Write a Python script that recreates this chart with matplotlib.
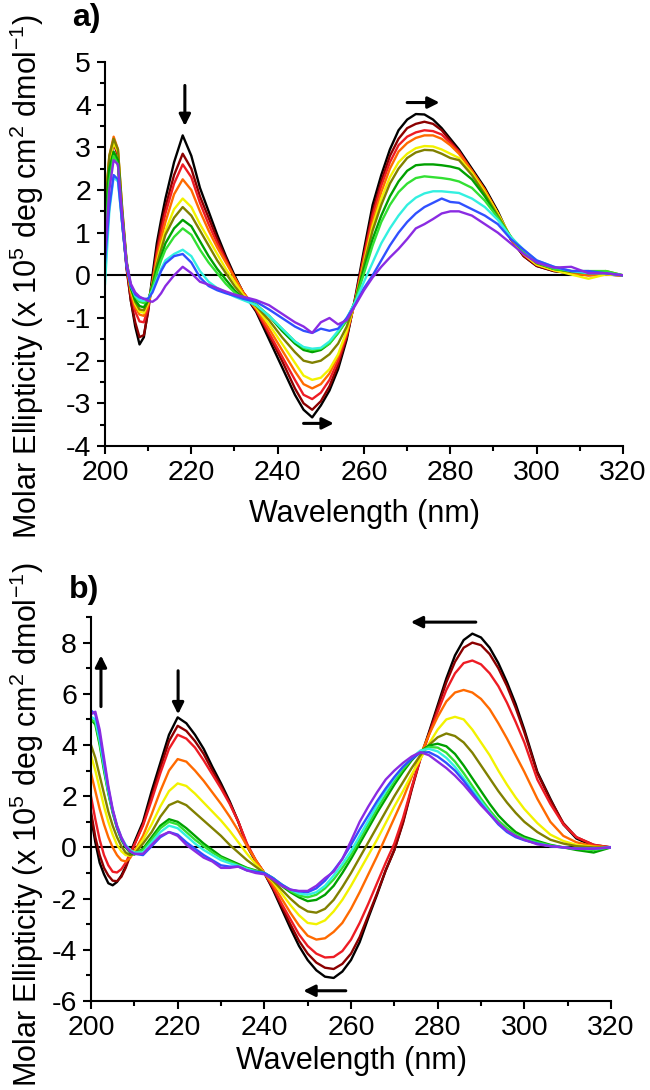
import matplotlib
matplotlib.use('Agg')
import matplotlib.pyplot as plt
from matplotlib.ticker import MultipleLocator

plt.rcParams['font.family'] = ['Liberation Sans', 'DejaVu Sans']
plt.rcParams['mathtext.fontset'] = 'custom'
plt.rcParams['mathtext.rm'] = 'Liberation Sans'
plt.rcParams['mathtext.it'] = 'Liberation Sans'
plt.rcParams['axes.unicode_minus'] = False

# titration colours, first spectrum (black) to last (violet)
COLORS = ['#000000', '#8b0000', '#ee1c24', '#ff6a00', '#f2f200', '#808000',
          '#00a000', '#33e033', '#33f0e0', '#3050ff', '#8a2be2']

YLABEL = r'Molar Ellipticity (x 10$^5$ deg cm$^2$ dmol$^{-1}$)'
XLABEL = 'Wavelength (nm)'

# ---------------- panel a ----------------
WL_A = [200, 201, 202, 203, 204, 205, 206, 207, 208, 209, 210, 211, 212, 213, 214,
        216, 218, 220, 222, 224, 226, 228, 230, 232,
        235, 238, 241, 244,
        246, 248, 250, 252, 254, 256, 258, 260, 262, 264, 266, 268, 270, 272, 274, 276, 278, 280, 282,
        285, 288, 291, 294, 297, 300,
        304, 308, 312, 316, 320]

A_BLACK = [0.8, 2.2, 2.85, 2.6, 1.2, 0.2, -0.6, -1.2, -1.62, -1.45, -0.8, 0.0, 0.75, 1.3, 1.8,
           2.65, 3.28, 2.8, 2.05, 1.5, 0.95, 0.45, 0.0, -0.4,
           -0.85, -1.5, -2.15, -2.8,
           -3.15, -3.33, -3.05, -2.7, -2.2, -1.5, -0.5, 0.6, 1.65, 2.35, 2.95, 3.4, 3.65, 3.78, 3.77, 3.65, 3.45, 3.2, 2.95,
           2.5, 2.05, 1.5, 0.85, 0.45, 0.22,
           0.1, 0.05, 0.03, 0.02, 0.0]
A_DARKRED = [1.2, 2.6, 3.1, 2.8, 1.3, 0.15, -0.6, -1.1, -1.45, -1.4, -0.85, -0.1, 0.6, 1.15, 1.6,
             2.35, 2.85, 2.5, 1.85, 1.35, 0.85, 0.4, -0.05, -0.4,
             -0.82, -1.4, -2.0, -2.65,
             -3.0, -3.15, -2.95, -2.6, -2.1, -1.45, -0.55, 0.5, 1.5, 2.2, 2.8, 3.2, 3.45, 3.55, 3.6, 3.55, 3.4, 3.15, 2.9,
             2.45, 2.0, 1.45, 0.85, 0.45, 0.22,
             0.1, 0.05, 0.02, 0.02, 0.0]
A_RED = [1.4, 2.7, 3.15, 2.85, 1.4, 0.2, -0.45, -0.85, -1.08, -1.1, -0.75, -0.15, 0.5, 1.0, 1.45,
         2.15, 2.6, 2.3, 1.7, 1.2, 0.75, 0.35, -0.05, -0.4,
         -0.8, -1.35, -1.9, -2.45,
         -2.8, -2.9, -2.75, -2.45, -2.0, -1.4, -0.55, 0.45, 1.4, 2.1, 2.65, 3.05, 3.25, 3.35, 3.4, 3.38, 3.3, 3.1, 2.9,
         2.45, 2.0, 1.45, 0.85, 0.48, 0.25,
         0.12, 0.05, 0.0, 0.02, 0.0]
A_ORANGE = [1.5, 2.8, 3.25, 2.95, 1.5, 0.3, -0.4, -0.75, -0.92, -0.95, -0.7, -0.2, 0.4, 0.85, 1.25,
            1.9, 2.25, 2.0, 1.5, 1.05, 0.65, 0.3, -0.05, -0.4,
            -0.78, -1.25, -1.75, -2.25,
            -2.55, -2.65, -2.55, -2.3, -1.9, -1.35, -0.6, 0.35, 1.25, 1.95, 2.5, 2.9, 3.1, 3.22, 3.28, 3.28, 3.2, 3.05, 2.85,
            2.45, 2.0, 1.45, 0.85, 0.5, 0.25,
            0.12, 0.05, 0.0, 0.03, 0.0]
A_YELLOW = [1.6, 2.7, 3.1, 2.9, 1.5, 0.3, -0.35, -0.68, -0.85, -0.88, -0.65, -0.2, 0.3, 0.7, 1.05,
            1.55, 1.8, 1.6, 1.2, 0.85, 0.5, 0.15, -0.15, -0.45,
            -0.75, -1.15, -1.6, -2.05,
            -2.35, -2.45, -2.4, -2.2, -1.85, -1.3, -0.6, 0.3, 1.15, 1.8, 2.3, 2.65, 2.85, 2.98, 3.03, 3.02, 2.95, 2.85, 2.75,
            2.4, 1.95, 1.45, 0.9, 0.5, 0.25,
            0.12, 0.02, -0.08, 0.02, 0.0]
A_OLIVE = [1.5, 2.8, 3.2, 2.95, 1.55, 0.35, -0.3, -0.62, -0.8, -0.82, -0.6, -0.2, 0.25, 0.6, 0.95,
           1.35, 1.6, 1.4, 1.05, 0.7, 0.35, 0.05, -0.25, -0.5,
           -0.72, -1.05, -1.45, -1.8,
           -2.0, -2.05, -2.0, -1.85, -1.6, -1.2, -0.6, 0.25, 1.05, 1.65, 2.15, 2.5, 2.75, 2.88, 2.94, 2.93, 2.85, 2.75, 2.7,
           2.35, 1.9, 1.4, 0.9, 0.55, 0.28,
           0.15, 0.08, 0.05, 0.1, 0.0]
A_GREEN = [1.2, 2.5, 2.9, 2.7, 1.4, 0.3, -0.3, -0.58, -0.72, -0.75, -0.58, -0.25, 0.15, 0.45, 0.75,
           1.1, 1.3, 1.15, 0.8, 0.45, 0.15, -0.1, -0.35, -0.55,
           -0.7, -0.95, -1.3, -1.6,
           -1.75, -1.8, -1.75, -1.6, -1.35, -1.05, -0.6, 0.15, 0.85, 1.4, 1.85, 2.2, 2.45, 2.58, 2.6, 2.6, 2.58, 2.55, 2.5,
           2.25, 1.85, 1.35, 0.9, 0.55, 0.3,
           0.15, 0.1, 0.05, 0.05, 0.0]
A_LIME = [0.8, 2.2, 2.8, 2.6, 1.35, 0.3, -0.25, -0.5, -0.62, -0.65, -0.58, -0.3, 0.05, 0.35, 0.6,
          0.9, 1.1, 0.95, 0.6, 0.3, 0.05, -0.2, -0.4, -0.55,
          -0.68, -0.95, -1.25, -1.55,
          -1.7, -1.75, -1.72, -1.6, -1.35, -1.05, -0.6, 0.05, 0.7, 1.25, 1.65, 1.95, 2.15, 2.28, 2.32, 2.3, 2.28, 2.25, 2.2,
          2.05, 1.75, 1.35, 0.9, 0.55, 0.3,
          0.15, 0.1, 0.1, 0.1, 0.0]
A_CYAN = [-0.2, 1.5, 2.3, 2.2, 1.2, 0.25, -0.25, -0.48, -0.58, -0.6, -0.55, -0.35, -0.1, 0.15, 0.35,
          0.5, 0.6, 0.45, 0.1, -0.15, -0.3, -0.4, -0.5, -0.58,
          -0.7, -0.95, -1.25, -1.55,
          -1.68, -1.72, -1.7, -1.55, -1.3, -1.0, -0.62, -0.15, 0.3, 0.75, 1.1, 1.4, 1.65, 1.82, 1.92, 1.97, 1.97, 1.95, 1.93,
          1.8, 1.6, 1.3, 0.9, 0.6, 0.35,
          0.2, 0.1, 0.05, 0.05, 0.0]
A_BLUE = [0.3, 1.6, 2.35, 2.25, 1.2, 0.2, -0.25, -0.45, -0.52, -0.55, -0.55, -0.4, -0.15, 0.1, 0.28,
          0.45, 0.5, 0.3, -0.05, -0.25, -0.35, -0.42, -0.48, -0.55,
          -0.62, -0.8, -1.0, -1.2,
          -1.3, -1.35, -1.25, -1.3, -1.25, -1.0, -0.68, -0.3, 0.0, 0.35, 0.7, 1.0, 1.25, 1.45, 1.6, 1.7, 1.8, 1.72, 1.7,
          1.55, 1.4, 1.2, 0.85, 0.6, 0.35,
          0.2, 0.1, 0.1, 0.05, 0.0]
A_PURPLE = [0.5, 2.0, 2.7, 2.6, 1.4, 0.3, -0.2, -0.4, -0.5, -0.55, -0.6, -0.62, -0.55, -0.42, -0.25,
            0.0, 0.2, 0.05, -0.15, -0.22, -0.3, -0.38, -0.45, -0.5,
            -0.58, -0.7, -0.9, -1.1,
            -1.2, -1.35, -1.1, -1.0, -1.15, -1.05, -0.7, -0.35, -0.05, 0.2, 0.42, 0.62, 0.85, 1.1, 1.2, 1.32, 1.45, 1.5, 1.5,
            1.4, 1.2, 1.0, 0.75, 0.5, 0.3,
            0.18, 0.2, 0.05, 0.05, 0.0]

# arrows: (x tail, y tail, x head, y head)
ARROWS_A = [(218.5, 4.45, 218.5, 3.5), (270.0, 4.05, 277.5, 4.05), (246.0, -3.47, 253.0, -3.47)]

# ---------------- panel b ----------------
WL_B = [200, 201, 202, 203, 204, 205, 206, 207, 208, 209, 210,
        212, 214, 216, 218, 220, 222, 224, 226, 228, 230, 232, 234, 236, 238, 240,
        242, 244, 246, 248, 250, 252, 254, 256, 258, 260, 262, 264, 266, 268, 270,
        272, 274, 276, 278, 280, 282, 284, 286, 288, 290, 292, 294, 296, 298, 300,
        303, 306, 309, 312, 316, 320]

B_BLACK = [1.2, 0.2, -0.6, -1.05, -1.4, -1.48, -1.35, -1.1, -0.75, -0.25, 0.2,
           1.0, 2.2, 3.3, 4.4, 5.08, 4.85, 4.4, 3.85, 3.15, 2.5, 1.8, 1.0, 0.05, -0.55, -1.0,
           -1.65, -2.4, -3.15, -3.85, -4.4, -4.8, -5.05, -5.1, -4.85, -4.4, -3.7, -2.75, -1.85, -0.9, -0.1,
           1.0, 2.3, 3.5, 4.5, 5.55, 6.6, 7.5, 8.1, 8.35, 8.2, 7.8, 7.2, 6.45, 5.6, 4.6,
           2.95, 1.9, 0.9, 0.35, 0.05, 0.0]
B_DARKRED = [1.4, 0.4, -0.3, -0.8, -1.1, -1.3, -1.32, -1.15, -0.8, -0.35, 0.1,
             0.9, 2.0, 3.1, 4.15, 4.75, 4.55, 4.15, 3.65, 3.0, 2.4, 1.75, 1.0, 0.1, -0.5, -1.0,
             -1.6, -2.3, -3.0, -3.65, -4.15, -4.5, -4.7, -4.75, -4.55, -4.15, -3.5, -2.65, -1.8, -0.9, -0.1,
             0.95, 2.25, 3.45, 4.45, 5.45, 6.45, 7.25, 7.8, 8.0, 7.9, 7.55, 7.0, 6.3, 5.45, 4.5,
             2.9, 1.85, 0.95, 0.4, 0.1, 0.0]
B_RED = [2.0, 1.1, 0.3, -0.3, -0.7, -0.95, -0.98, -0.85, -0.6, -0.25, 0.1,
         0.85, 1.85, 2.9, 3.85, 4.4, 4.25, 3.9, 3.4, 2.85, 2.3, 1.7, 1.0, 0.15, -0.5, -1.0,
         -1.55, -2.2, -2.8, -3.4, -3.85, -4.15, -4.3, -4.28, -4.05, -3.6, -2.95, -2.2, -1.4, -0.6, 0.15,
         1.15, 2.35, 3.45, 4.4, 5.3, 6.15, 6.8, 7.2, 7.3, 7.15, 6.8, 6.3, 5.65, 4.9, 4.1,
         2.65, 1.7, 0.9, 0.4, 0.1, 0.0]
B_ORANGE = [2.9, 2.2, 1.5, 0.9, 0.4, 0.0, -0.3, -0.5, -0.55, -0.42, -0.15,
            0.45, 1.3, 2.2, 3.0, 3.45, 3.35, 3.0, 2.6, 2.15, 1.7, 1.2, 0.65, 0.05, -0.5, -1.0,
            -1.45, -2.0, -2.55, -3.05, -3.45, -3.6, -3.55, -3.3, -2.95, -2.4, -1.75, -1.05, -0.35, 0.4, 1.15,
            1.9, 2.75, 3.6, 4.4, 5.1, 5.7, 6.05, 6.15, 6.05, 5.8, 5.4, 4.85, 4.25, 3.6, 2.95,
            1.9, 1.0, 0.45, 0.2, 0.05, 0.0]
B_YELLOW = [3.6, 3.0, 2.3, 1.6, 1.0, 0.5, 0.1, -0.15, -0.3, -0.33, -0.2,
            0.3, 0.9, 1.6, 2.2, 2.5, 2.4, 2.1, 1.75, 1.4, 1.05, 0.65, 0.2, -0.25, -0.65, -1.0,
            -1.35, -1.8, -2.25, -2.65, -2.95, -3.0, -2.85, -2.5, -2.05, -1.5, -0.9, -0.3, 0.3, 0.95, 1.6,
            2.2, 2.85, 3.45, 4.05, 4.6, 5.0, 5.1, 5.0, 4.6, 4.1, 3.6, 3.0, 2.45, 1.95, 1.5,
            0.95, 0.5, 0.25, 0.1, 0.02, 0.0]
B_OLIVE = [4.0, 3.5, 2.8, 2.1, 1.4, 0.85, 0.4, 0.05, -0.2, -0.3, -0.25,
           0.15, 0.6, 1.2, 1.65, 1.8, 1.65, 1.35, 1.05, 0.75, 0.45, 0.1, -0.2, -0.5, -0.75, -1.0,
           -1.3, -1.65, -2.0, -2.3, -2.5, -2.55, -2.4, -2.05, -1.55, -1.0, -0.4, 0.2, 0.8, 1.4, 2.0,
           2.55, 3.1, 3.6, 4.0, 4.3, 4.45, 4.35, 4.1, 3.7, 3.2, 2.7, 2.2, 1.75, 1.35, 1.0,
           0.6, 0.3, 0.15, 0.05, 0.0, 0.0]
B_GREEN = [5.0, 4.8, 4.0, 3.0, 2.1, 1.35, 0.75, 0.3, 0.0, -0.2, -0.28,
           -0.05, 0.4, 0.85, 1.1, 1.0, 0.75, 0.45, 0.15, -0.1, -0.35, -0.5, -0.65, -0.8, -0.9, -1.0,
           -1.2, -1.5, -1.75, -1.95, -2.1, -2.05, -1.85, -1.5, -1.0, -0.45, 0.15, 0.75, 1.35, 1.9, 2.45,
           2.95, 3.4, 3.75, 3.98, 4.05, 3.95, 3.65, 3.2, 2.7, 2.2, 1.7, 1.25, 0.9, 0.6, 0.42,
           0.25, 0.1, 0.0, -0.1, -0.2, 0.0]
B_LIME = [5.0, 4.9, 4.1, 3.1, 2.15, 1.4, 0.8, 0.35, 0.05, -0.15, -0.25,
          -0.1, 0.3, 0.75, 1.0, 0.9, 0.6, 0.3, 0.05, -0.2, -0.4, -0.55, -0.7, -0.82, -0.92, -1.0,
          -1.2, -1.45, -1.7, -1.88, -1.95, -1.85, -1.6, -1.25, -0.8, -0.3, 0.3, 0.9, 1.5, 2.05, 2.6,
          3.05, 3.45, 3.75, 3.92, 3.9, 3.7, 3.35, 2.9, 2.4, 1.9, 1.45, 1.05, 0.75, 0.5, 0.35,
          0.2, 0.08, 0.0, -0.05, -0.1, 0.0]
B_CYAN = [5.1, 5.0, 4.2, 3.2, 2.2, 1.45, 0.85, 0.4, 0.1, -0.1, -0.2,
          -0.2, 0.2, 0.6, 0.85, 0.75, 0.45, 0.15, -0.1, -0.3, -0.5, -0.62, -0.72, -0.85, -0.95, -1.0,
          -1.2, -1.45, -1.65, -1.8, -1.85, -1.75, -1.5, -1.1, -0.65, -0.15, 0.45, 1.05, 1.65, 2.2, 2.7,
          3.15, 3.5, 3.78, 3.85, 3.75, 3.5, 3.15, 2.7, 2.25, 1.8, 1.35, 0.95, 0.65, 0.45, 0.3,
          0.15, 0.05, 0.0, -0.05, -0.05, 0.0]
B_BLUE = [5.35, 5.2, 4.4, 3.35, 2.3, 1.45, 0.8, 0.35, 0.05, -0.15, -0.25,
          -0.3, 0.05, 0.4, 0.6, 0.5, 0.2, -0.05, -0.3, -0.5, -0.7, -0.75, -0.75, -0.9, -0.95, -1.0,
          -1.2, -1.45, -1.65, -1.72, -1.75, -1.6, -1.3, -0.9, -0.45, 0.1, 0.7, 1.25, 1.8, 2.3, 2.75,
          3.15, 3.45, 3.7, 3.72, 3.55, 3.3, 3.0, 2.6, 2.15, 1.7, 1.3, 0.9, 0.6, 0.4, 0.28,
          0.15, 0.05, 0.0, -0.05, -0.05, 0.0]
B_PURPLE = [5.2, 5.3, 4.6, 3.5, 2.4, 1.5, 0.85, 0.4, 0.05, -0.15, -0.25,
            -0.25, 0.1, 0.45, 0.6, 0.45, 0.1, -0.15, -0.4, -0.55, -0.8, -0.8, -0.75, -0.9, -1.0, -1.05,
            -1.25, -1.5, -1.65, -1.7, -1.7, -1.5, -1.2, -0.95, -0.45, 0.25, 1.0, 1.6, 2.15, 2.65, 3.0,
            3.3, 3.55, 3.72, 3.6, 3.35, 3.1, 2.8, 2.45, 2.05, 1.65, 1.3, 0.95, 0.65, 0.45, 0.3,
            0.12, 0.05, 0.0, -0.05, -0.05, 0.0]

ARROWS_B = [(202.3, 5.5, 202.3, 7.5), (220.1, 6.9, 220.1, 5.2),
            (288.8, 8.8, 273.8, 8.8), (258.8, -5.6, 249.0, -5.6)]

A_CURVES = [A_BLACK, A_DARKRED, A_RED, A_ORANGE, A_YELLOW, A_OLIVE,
            A_GREEN, A_LIME, A_CYAN, A_BLUE, A_PURPLE]
B_CURVES = [B_BLACK, B_DARKRED, B_RED, B_ORANGE, B_YELLOW, B_OLIVE,
            B_GREEN, B_LIME, B_CYAN, B_BLUE, B_PURPLE]


def draw_panel(ax, wl, curves, ylim, ymajor, arrows):
    ax.axhline(0, color='black', lw=1.5, zorder=1.5)
    for vals, col in zip(curves, COLORS):
        ax.plot(wl, vals, color=col, lw=1.7, zorder=2)
    for x0, y0, x1, y1 in arrows:
        ax.annotate('', xy=(x1, y1), xytext=(x0, y0),
                    arrowprops=dict(arrowstyle='-|>', color='black', lw=2.2,
                                    mutation_scale=17, shrinkA=0, shrinkB=0))
    ax.set_xlim(200, 320)
    ax.set_ylim(*ylim)
    ax.xaxis.set_major_locator(MultipleLocator(20))
    ax.xaxis.set_minor_locator(MultipleLocator(10))
    ax.yaxis.set_major_locator(MultipleLocator(ymajor))
    ax.yaxis.set_minor_locator(MultipleLocator(ymajor / 2))
    for side in ['top', 'right']:
        ax.spines[side].set_visible(False)
    for side in ['left', 'bottom']:
        ax.spines[side].set_linewidth(1.5)
    ax.tick_params(which='major', direction='out', length=6, width=1.5,
                   labelsize=20.5, pad=4)
    ax.tick_params(which='minor', direction='out', length=3.5, width=1.5)


fig = plt.figure(figsize=(6.5, 10.9), dpi=100)
W, H = 650.0, 1090.0

ax_a = fig.add_axes([105 / W, 1 - 446 / H, 518 / W, 384 / H])
draw_panel(ax_a, WL_A, A_CURVES, (-4, 5), 1, ARROWS_A)

ax_b = fig.add_axes([91 / W, 1 - 1001 / H, 520 / W, 384 / H])
draw_panel(ax_b, WL_B, B_CURVES, (-6, 9), 2, ARROWS_B)

# panel letters and axis titles
fig.text(86 / W, 1 - 18 / H, 'a)', fontsize=23, fontweight='bold', ha='center', va='center')
fig.text(84 / W, 1 - 590 / H, 'b)', fontsize=23, fontweight='bold', ha='center', va='center')

fig.text(27 / W, 1 - 277 / H, YLABEL, rotation=90, fontsize=22, ha='center', va='center')
fig.text(27 / W, 1 - 825 / H, YLABEL, rotation=90, fontsize=22, ha='center', va='center')

fig.text(364 / W, 1 - 514 / H, XLABEL, fontsize=22, ha='center', va='center')
fig.text(351 / W, 1 - 1061 / H, XLABEL, fontsize=22, ha='center', va='center')

fig.savefig('out.png', dpi=100)
